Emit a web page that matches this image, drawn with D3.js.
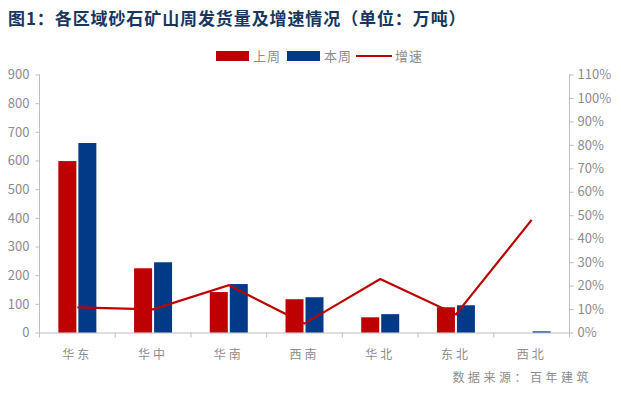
<!DOCTYPE html>
<html>
<head>
<meta charset="utf-8">
<script src="https://cdn.jsdelivr.net/npm/d3@7"></script>
<style>
body { margin: 0; background: #fff; }
text { font-family: "Noto Sans CJK SC", "DejaVu Sans", sans-serif; }
</style>
</head>
<body>
<script>
var regions = ["华东", "华中", "华南", "西南", "华北", "东北", "西北"]
var lastWeek = [598, 224, 141, 116, 53, 88, 0]
var thisWeek = [661, 245, 169, 123, 64, 95, 4]
var growth = [0.107, 0.099, 0.202, 0.038, 0.228, 0.077, 0.48]
var leftTicks = [0, 100, 200, 300, 400, 500, 600, 700, 800, 900]
var rightTicks = [0, 0.1, 0.2, 0.3, 0.4, 0.5, 0.6, 0.7, 0.8, 0.9, 1.0, 1.1]

var red = "#BE0000", blue = "#033A87", grey = "#8C8C8C", axisGrey = "#BFBFBF"

var svg = d3.select("body").append("svg")
  .attr("width", 621).attr("height", 393)

var pLeft = 39.5, pRight = 569.5, pTop = 74.5, pBottom = 332.5

var x = d3.scaleBand().domain(regions).range([pLeft, pRight])
var xs = d3.scaleBand().domain(["上周", "本周"]).range([0, 38]).paddingInner(0.1)
var y = d3.scaleLinear().domain([0, 900]).range([pBottom, pTop])
var y2 = d3.scaleLinear().domain([0, 1.1]).range([pBottom, pTop])

// title
svg.append("text").attr("x", 8).attr("y", 25)
  .attr("fill", "#17375E").attr("font-size", 17).attr("font-weight", "bold")
  .attr("letter-spacing", 0.9)
  .text("图1：各区域砂石矿山周发货量及增速情况（单位：万吨）")

// axes
var ax = svg.append("g").attr("transform", "translate(" + pLeft + ",0)")
  .call(d3.axisLeft(y).tickValues(leftTicks).tickSize(4).tickPadding(6))
var ax2 = svg.append("g").attr("transform", "translate(" + pRight + ",0)")
  .call(d3.axisRight(y2).tickValues(rightTicks).tickSize(4).tickPadding(4).tickFormat(d3.format(".0%")))
var axb = svg.append("g").attr("transform", "translate(0," + pBottom + ")")
  .call(d3.axisBottom(x).tickSize(0).tickPadding(18))
axb.selectAll(".bnd").data(d3.range(regions.length + 1)).enter().append("line")
  .attr("x1", function(d){return pLeft + d * x.step()})
  .attr("x2", function(d){return pLeft + d * x.step()})
  .attr("y1", 0).attr("y2", 5).attr("stroke", axisGrey)

;[ax, ax2, axb].forEach(function(a){
  a.selectAll(".domain").attr("stroke", axisGrey)
  a.selectAll(".tick line").attr("stroke", axisGrey)
  a.selectAll(".tick text").attr("fill", grey).attr("font-size", 13)
    .attr("font-family", "\"Liberation Sans\", \"Noto Sans CJK SC\", sans-serif")
})
axb.selectAll(".tick text").attr("font-size", 12).attr("letter-spacing", 3)
  .attr("font-family", "\"Noto Sans CJK SC\", sans-serif")
ax.select(".domain").attr("d", "M0," + pTop + "V" + pBottom)
ax2.select(".domain").attr("d", "M0," + pTop + "V" + pBottom)

// bars
var groups = svg.append("g").selectAll("g").data(regions).enter().append("g")
  .attr("transform", function(d){return "translate(" + (x(d) + (x.bandwidth() - 38) / 2) + ",0)"})
groups.append("rect")
  .attr("x", xs("上周")).attr("width", xs.bandwidth())
  .attr("y", function(d, i){return y(lastWeek[i])})
  .attr("height", function(d, i){return pBottom - y(lastWeek[i])})
  .attr("fill", red)
groups.append("rect")
  .attr("x", xs("本周")).attr("width", xs.bandwidth())
  .attr("y", function(d, i){return y(thisWeek[i])})
  .attr("height", function(d, i){return pBottom - y(thisWeek[i])})
  .attr("fill", blue)

// growth line
var line = d3.line()
  .x(function(d, i){return x(regions[i]) + x.bandwidth() / 2})
  .y(function(d){return y2(d)})
svg.append("path").datum(growth).attr("d", line)
  .attr("fill", "none").attr("stroke", red).attr("stroke-width", 2.2)

// legend
var legend = svg.append("g")
legend.append("rect").attr("x", 216).attr("y", 51).attr("width", 33).attr("height", 10).attr("fill", red)
legend.append("text").attr("x", 253).attr("y", 61).text("上周")
legend.append("rect").attr("x", 287).attr("y", 51).attr("width", 33).attr("height", 10).attr("fill", blue)
legend.append("text").attr("x", 324).attr("y", 61).text("本周")
legend.append("line").attr("x1", 356).attr("x2", 392).attr("y1", 56).attr("y2", 56).attr("stroke", red).attr("stroke-width", 2)
legend.append("text").attr("x", 395).attr("y", 61).text("增速")
legend.selectAll("text").attr("fill", grey).attr("font-size", 13).attr("letter-spacing", 1)

// source
svg.append("text").attr("x", 592).attr("y", 382).attr("text-anchor", "end")
  .attr("fill", grey).attr("font-size", 12).attr("letter-spacing", 3.5)
  .text("数据来源：百年建筑")
</script>
</body>
</html>
